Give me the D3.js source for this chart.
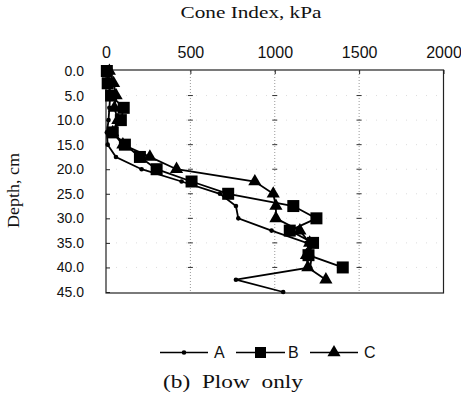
<!DOCTYPE html>
<html>
<head>
<meta charset="utf-8">
<script src="https://cdn.jsdelivr.net/npm/d3@7"></script>
<style>
  html, body { margin: 0; padding: 0; background: #fff; }
  svg { display: block; }
</style>
</head>
<body>
<div id="chart"></div>
<script>
// ---- data ----
const depthsA = [0, 2.5, 5, 7.5, 10, 12.5, 15, 17.5, 20, 22.5, 25, 27.5, 30, 32.5, 35, 37.5, 40, 42.5, 45];
const valuesA = [15, 20, 25, 20, 15, 5, 10, 59, 211, 448, 675, 770, 784, 981, 1190, 1220, 1210, 770, 1050];
const depthsB = [0, 2.5, 5, 7.5, 10, 12.5, 15, 17.5, 20, 22.5, 25, 27.5, 30, 32.5, 35, 37.5, 40];
const valuesB = [5, 10, 30, 105, 88, 40, 112, 201, 300, 507, 724, 1110, 1247, 1089, 1227, 1200, 1403];
const depthsC = [0, 2.5, 5, 7.5, 10, 12.5, 15, 17.5, 20, 22.5, 25, 27.5, 30, 32.5, 35, 37.5, 40, 42.5];
const valuesC = [20, 45, 60, 50, 70, 40, 100, 260, 418, 882, 991, 1007, 1007, 1149, 1207, 1188, 1196, 1303];
const xTicks = [0, 500, 1000, 1500, 2000];
const yTicks = [0, 5, 10, 15, 20, 25, 30, 35, 40, 45];
const seriesNames = ["A", "B", "C"];
const xTitle = "Cone Index, kPa";
const yTitle = "Depth, cm";
const caption = "(b)\u00a0\u00a0Plow\u00a0\u00a0only";

const W = 461, H = 409;
const svg = d3.select("#chart").append("svg").attr("width", W).attr("height", H);

const x = d3.scaleLinear().domain([0, 2000]).range([106, 443.5]);
const y = d3.scaleLinear().domain([0, 45]).range([71, 292]);

const sans = "'Liberation Sans', Arial, sans-serif";
const serif = "'Liberation Serif', 'Times New Roman', serif";

// grid
const grid = svg.append("g");
[500, 1000, 1500].forEach(v => {
  grid.append("line").attr("x1", x(v)).attr("x2", x(v)).attr("y1", y(0)).attr("y2", y(45))
    .attr("stroke", "#999").attr("stroke-width", 1).attr("stroke-dasharray", "1,2");
});
yTicks.slice(1, -1).forEach(d => {
  grid.append("line").attr("x1", x(0)).attr("x2", x(2000)).attr("y1", y(d)).attr("y2", y(d))
    .attr("stroke", "#ddd").attr("stroke-width", 1).attr("stroke-dasharray", "1,9");
  [500, 1000, 1500].forEach(v => {
    grid.append("line").attr("x1", x(v) - 2.5).attr("x2", x(v) + 2.5).attr("y1", y(d)).attr("y2", y(d))
      .attr("stroke", "#333").attr("stroke-width", 1);
  });
});

// frame
svg.append("rect").attr("x", x(0)).attr("y", y(0) - 1).attr("width", x(2000) - x(0)).attr("height", y(45) - y(0) + 2)
  .attr("fill", "none").attr("stroke", "#222").attr("stroke-width", 1.2);

// axes
const xAxis = d3.axisTop(x).tickValues(xTicks).tickSize(-4).tickPadding(12).tickFormat(d3.format("d"));
const gx = svg.append("g").attr("transform", `translate(0,${y(0) - 1})`).call(xAxis);
gx.select(".domain").remove();
gx.selectAll("line").attr("stroke", "#222");
gx.selectAll("text").attr("font-family", sans).attr("font-size", 16).attr("fill", "#111");

const yAxis = d3.axisLeft(y).tickValues(yTicks).tickSize(-4).tickPadding(22).tickFormat(d3.format(".1f"));
const gy = svg.append("g").attr("transform", `translate(${x(0)},0)`).call(yAxis);
gy.select(".domain").remove();
gy.selectAll("line").attr("stroke", "#222");
gy.selectAll("text").attr("font-family", sans).attr("font-size", 14).attr("fill", "#111");

// stretched serif text helper (scan appears horizontally stretched)
function stretchedText(cx, baseline, size, str, targetW, rotate) {
  const t = svg.append("text").attr("text-anchor", "middle")
    .attr("font-family", serif).attr("font-size", size).attr("fill", "#111").text(str);
  const w = t.node().getComputedTextLength();
  const s = targetW / w;
  if (rotate) t.attr("transform", `translate(${cx},${baseline}) rotate(-90) scale(${s},1)`);
  else t.attr("transform", `translate(${cx},${baseline}) scale(${s},1)`);
}
stretchedText(251, 18, 17, xTitle, 141, false);
stretchedText(19, 190.5, 17, yTitle, 75, true);
stretchedText(233, 388, 19, caption, 140, false);

// series
const line = d3.line().x(d => x(d[1])).y(d => y(d[0]));
const dataA = depthsA.map((d, i) => [d, valuesA[i]]);
const dataB = depthsB.map((d, i) => [d, valuesB[i]]);
const dataC = depthsC.map((d, i) => [d, valuesC[i]]);

const tri = d3.symbol().type(d3.symbolTriangle).size(75);
const SQ = 12;
function drawSeries(data, kind) {
  const g = svg.append("g");
  g.append("path").attr("d", line(data)).attr("fill", "none").attr("stroke", "#000").attr("stroke-width", 1.8);
  data.forEach(d => {
    const cx = x(d[1]), cy = y(d[0]);
    if (kind === "A") {
      g.append("circle").attr("cx", cx).attr("cy", cy).attr("r", 2.3).attr("fill", "#000");
    } else if (kind === "B") {
      g.append("rect").attr("x", cx - SQ / 2).attr("y", cy - SQ / 2).attr("width", SQ).attr("height", SQ).attr("fill", "#000");
    } else {
      g.append("path").attr("d", tri()).attr("transform", `translate(${cx},${cy})`).attr("fill", "#000");
    }
  });
}
drawSeries(dataA, "A");
drawSeries(dataC, "C");
drawSeries(dataB, "B");

// legend
const legY = 352.5;
const legItems = [
  { name: seriesNames[0], x1: 160, x2: 208, tx: 214 },
  { name: seriesNames[1], x1: 236, x2: 285, tx: 288 },
  { name: seriesNames[2], x1: 310, x2: 358, tx: 364 }
];
legItems.forEach((it, i) => {
  const lg = svg.append("g");
  lg.append("line").attr("x1", it.x1).attr("x2", it.x2).attr("y1", legY).attr("y2", legY)
    .attr("stroke", "#000").attr("stroke-width", 1.6);
  const mx = (it.x1 + it.x2) / 2;
  if (i === 0) lg.append("circle").attr("cx", mx).attr("cy", legY).attr("r", 2.3).attr("fill", "#000");
  if (i === 1) lg.append("rect").attr("x", mx - 5.5).attr("y", legY - 5.5).attr("width", 11).attr("height", 11).attr("fill", "#000");
  if (i === 2) lg.append("path").attr("d", tri()).attr("transform", `translate(${mx},${legY})`).attr("fill", "#000");
  lg.append("text").attr("x", it.tx).attr("y", legY + 5.5).attr("font-family", sans).attr("font-size", 16)
    .attr("fill", "#111").text(it.name);
});
</script>
</body>
</html>
